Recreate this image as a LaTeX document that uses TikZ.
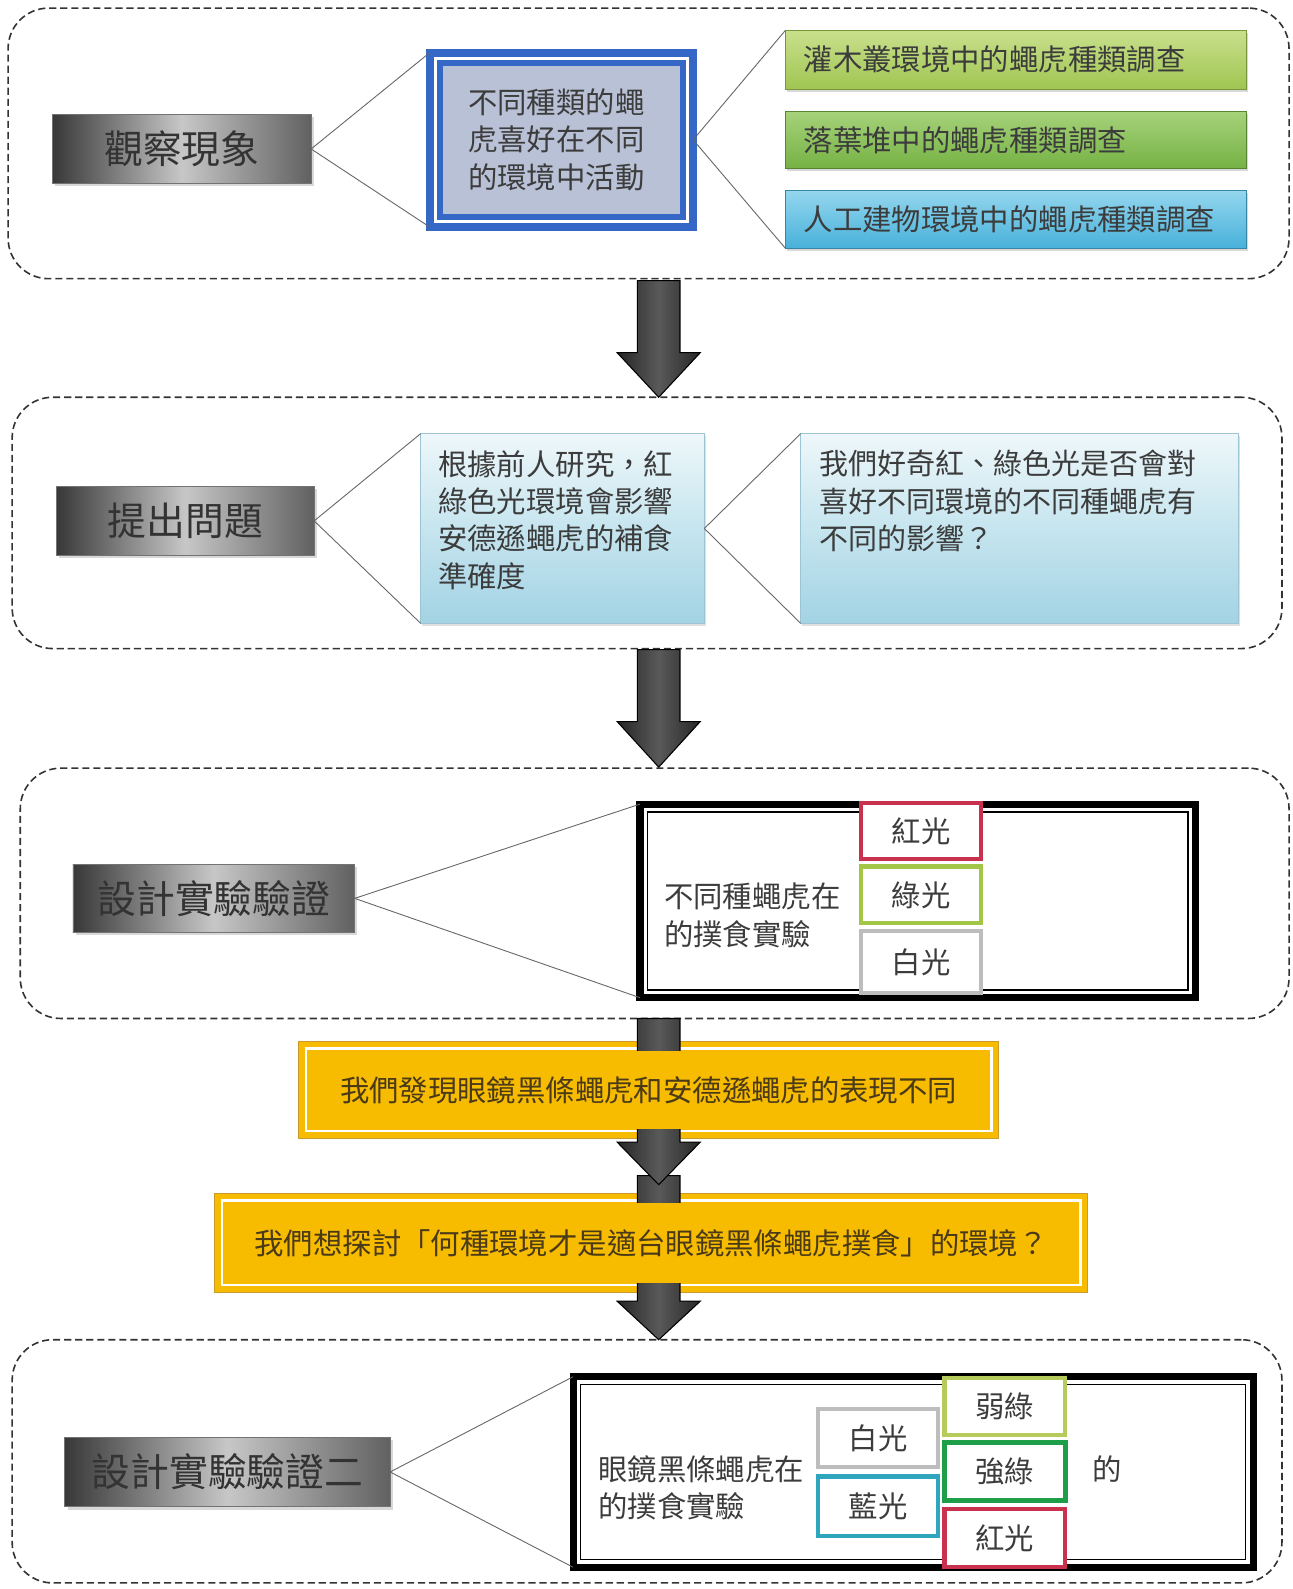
\documentclass[tikz,border=0pt]{standalone}
\usepackage{fontspec}
\setmainfont{Noto Sans CJK TC}
\usetikzlibrary{calc,shadows}

\definecolor{txtgray}{HTML}{3C3C3C}
\definecolor{phenblue}{HTML}{3467C6}
\definecolor{phenfill}{HTML}{B9C1D6}
\definecolor{grnAtop}{HTML}{C9E08C}
\definecolor{grnA}{HTML}{A0C552}
\definecolor{grnBtop}{HTML}{A6D27A}
\definecolor{grnB}{HTML}{76B245}
\definecolor{skyCtop}{HTML}{94D6EE}
\definecolor{skyC}{HTML}{48B1DA}
\definecolor{qtop}{HTML}{EEF7FA}
\definecolor{qmid}{HTML}{C6E5EF}
\definecolor{qbot}{HTML}{A3D3E4}
\definecolor{qedge}{HTML}{9CC4D2}
\definecolor{amber}{HTML}{F7BB00}
\definecolor{amberedge}{HTML}{C99A2E}
\definecolor{ambertext}{HTML}{4A3A18}
\definecolor{lred}{HTML}{C8324F}
\definecolor{lgreen}{HTML}{A3C646}
\definecolor{lwhite}{HTML}{BDBDBD}
\definecolor{lblue}{HTML}{2FA6BE}
\definecolor{lweak}{HTML}{B5CC5C}
\definecolor{lstrong}{HTML}{1E9E48}

\newcommand\fbig{\fontsize{21.8}{26}\selectfont}
\newcommand\fmid{\fontsize{16.5}{21}\selectfont}
\newcommand\fsml{\fontsize{16.3}{21}\selectfont}
\newcommand\fyel{\fontsize{16.5}{21}\selectfont}

% \boxat[style]{name}{x1}{y1}{x2}{y2}{text}: rectangle node between two corners
\newcommand\boxat[7][]{%
  \node[inner sep=0pt, outer sep=0pt,
        minimum width={(#5-#3)*0.02cm}, minimum height={(#6-#4)*0.02cm}, #1]
       (#2) at ({(#3+#5)/2},{(#4+#6)/2}) {#7};}

% \blockarrow{top}{tip}{head length}: thick downward block arrow
\newcommand\blockarrow[3]{%
  \path[blockarrowstyle] ($(#1)+(-21,0)$) -- ($(#2)+(-21,-#3)$) -- ($(#2)+(-41,-#3)$)
    -- (#2) -- ($(#2)+(41,-#3)$) -- ($(#2)+(21,-#3)$) -- ($(#1)+(21,0)$) -- cycle;}

\begin{document}
\begin{tikzpicture}[x=0.02cm, y=-0.02cm,
  section/.style={draw=black!80, line width=0.9pt, dash pattern=on 4pt off 2.2pt,
    rounded corners=0.8cm},
  labelbox/.style={draw=black!55, line width=0.5pt, left color=black!78,
    right color=black!62, middle color=black!22,
    drop shadow={shadow xshift=1.5pt, shadow yshift=-1.5pt, opacity=0.3},
    font=\fbig, text=black!80},
  link/.style={draw=black!60, line width=0.5pt},
  blockarrowstyle/.style={draw=black, line width=0.6pt, left color=black!85,
    right color=black!85, middle color=black!65},
  envbox/.style={draw=#1!75!black, line width=0.6pt,
    drop shadow={shadow xshift=1pt, shadow yshift=-1.5pt, opacity=0.3},
    font=\fmid, text=txtgray, align=left, text width=8.38cm},
  qbox/.style={draw=qedge, line width=0.6pt, top color=qtop, bottom color=qbot,
    middle color=qmid,
    drop shadow={shadow xshift=1pt, shadow yshift=-1.5pt, opacity=0.25}},
  qtext/.style={anchor=north west, inner sep=0pt, align=left, text=txtgray},
  blackouter/.style={draw=black, line width=4pt},
  blackinner/.style={draw=black, line width=0.9pt},
  lightbox/.style={draw=#1, fill=white, line width=2.3pt, font=\fmid, text=txtgray,
    drop shadow={shadow xshift=0.8pt, shadow yshift=-1pt, opacity=0.25}},
  amberbox/.style={fill=amber, draw=amberedge, line width=0.6pt},
  amberline/.style={draw=white, line width=1.6pt},
  amberfill/.style={fill=amber, font=\fyel, text=ambertext}]

\fill[white] (0,0) rectangle (1275,1568);
\useasboundingbox (0,0) rectangle (1275,1568);

% ---- dashed section frames ----
\boxat[section]{secA}{8}{8}{1272}{275}{}
\boxat[section]{secB}{12}{392}{1265}{640}{}
\boxat[section]{secC}{20}{758}{1272}{1005}{}
\boxat[section]{secD}{12}{1322}{1265}{1562}{}

% ---- arrows between the first sections ----
\coordinate (arA) at (650,277);  \coordinate (arAtip) at (650,392);
\coordinate (arB) at (650,641);  \coordinate (arBtip) at (650,757);
\coordinate (arC) at (650,1005); \coordinate (arCtip) at (650,1169);
\coordinate (arD) at (650,1160); \coordinate (arDtip) at (650,1322);
\blockarrow{arA}{arAtip}{44}
\blockarrow{arB}{arBtip}{45}

% ---- section 1: observation ----
\boxat[labelbox]{obs}{52}{113}{307}{181}{觀察現象}
\boxat[draw=phenblue, line width=4.5pt]{phen}{424}{52}{684}{224}{}
\boxat[draw=phenblue, line width=3.4pt, fill=phenfill]{phenin}{434}{62}{674}{214}{}
\node[font=\fmid, text=txtgray, align=left, inner sep=0pt] (phentext)
  at (549,138) {不同種類的蠅\\虎喜好在不同\\的環境中活動};
\boxat[envbox=grnA, top color=grnAtop, bottom color=grnA]{envA}{775}{30}{1230}{88}
  {灌木叢環境中的蠅虎種類調查}
\boxat[envbox=grnB, top color=grnBtop, bottom color=grnB]{envB}{775}{110}{1230}{166}
  {落葉堆中的蠅虎種類調查}
\boxat[envbox=skyC, top color=skyCtop, bottom color=skyC]{envC}{775}{188}{1230}{245}
  {人工建物環境中的蠅虎種類調查}
\draw[link] (obs.east) -- (phen.north west);
\draw[link] (obs.east) -- (phen.south west);
\draw[link] (phen.east) -- (envA.north west);
\draw[link] (phen.east) -- (envC.south west);

% ---- section 2: question ----
\boxat[labelbox]{ask}{56}{480}{310}{548}{提出問題}
\boxat[qbox]{qa}{415}{428}{695}{615}{}
\boxat[qbox]{qb}{790}{428}{1222}{615}{}
\node[qtext, font=\fmid] (qatext) at (432,444)
  {根據前人研究，紅\\綠色光環境會影響\\安德遜蠅虎的補食\\準確度};
\node[qtext, font=\fsml] (qbtext) at (808,444)
  {我們好奇紅、綠色光是否會對\\喜好不同環境的不同種蠅虎有\\不同的影響？};
\draw[link] (ask.east) -- (qa.north west);
\draw[link] (ask.east) -- (qa.south west);
\draw[link] (qa.east) -- (qb.north west);
\draw[link] (qa.east) -- (qb.south west);

% ---- section 3: first experiment ----
\boxat[labelbox]{des}{72}{853}{350}{920}{設計實驗驗證}
\boxat[blackouter]{expA}{631.5}{793.5}{1179.5}{984.5}{}
\boxat[blackinner]{expAin}{639}{801}{1172}{977}{}
\node[qtext, font=\fmid] (expAtext) at (655,871) {不同種蠅虎在\\的撲食實驗};
\boxat[lightbox=lred]{redA}{850}{792}{968}{848}{紅光}
\boxat[lightbox=lgreen]{greenA}{850}{855}{968}{911}{綠光}
\boxat[lightbox=lwhite]{whiteA}{850}{919}{968}{980}{白光}
\draw[link] (des.east) -- (expA.north west);
\draw[link] (des.east) -- (expA.south west);

% ---- findings: banners crossed by the arrows ----
\boxat[amberbox]{findA}{295}{1028}{985}{1123}{}
\boxat[amberline]{findAline}{302}{1035}{978}{1116}{}
\boxat[amberbox]{findB}{212}{1178}{1073}{1275}{}
\boxat[amberline]{findBline}{219}{1185}{1066}{1268}{}
\blockarrow{arD}{arDtip}{38}
\blockarrow{arC}{arCtip}{42}
\boxat[amberfill]{findAin}{304}{1037}{976}{1114}{我們發現眼鏡黑條蠅虎和安德遜蠅虎的表現不同}
\boxat[amberfill]{findBin}{221}{1187}{1064}{1266}{我們想探討「何種環境才是適台眼鏡黑條蠅虎撲食」的環境？}

% ---- section 4: second experiment ----
\boxat[labelbox]{desB}{64}{1418}{385}{1487}{設計實驗驗證二}
\boxat[blackouter]{expB}{565.5}{1358.5}{1236.5}{1546.5}{}
\boxat[blackinner]{expBin}{573}{1366}{1229}{1539}{}
\node[qtext, font=\fmid] (expBtext) at (590,1436) {眼鏡黑條蠅虎在\\的撲食實驗};
\boxat[lightbox=lwhite]{whiteB}{807}{1390}{926}{1448}{白光}
\boxat[lightbox=lblue]{blueB}{807}{1457}{926}{1516}{藍光}
\boxat[lightbox=lweak]{weakB}{932}{1360}{1051}{1416}{弱綠}
\boxat[lightbox=lstrong, line width=2.8pt]{strongB}{932}{1423}{1051}{1481}{強綠}
\boxat[lightbox=lred]{redB}{932}{1489}{1051}{1546}{紅光}
\node[font=\fmid, text=txtgray] (deB) at (1093,1450) {的};
\draw[link] (desB.east) -- (expB.north west);
\draw[link] (desB.east) -- (expB.south west);

\end{tikzpicture}
\end{document}
